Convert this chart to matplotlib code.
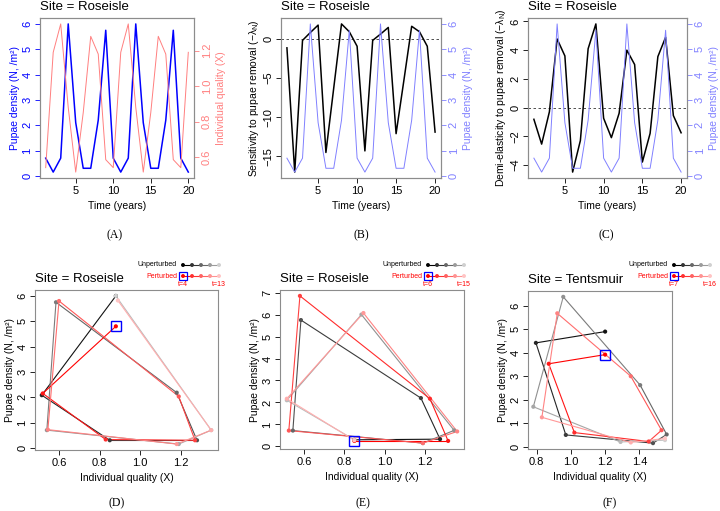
import numpy as np
import matplotlib
matplotlib.use('Agg')
import matplotlib.pyplot as plt
from matplotlib.colors import to_rgb

plt.rcParams['font.family'] = ['Liberation Sans', 'DejaVu Sans']
plt.rcParams['mathtext.fontset'] = 'custom'
plt.rcParams['mathtext.rm'] = 'Liberation Sans'
plt.rcParams['mathtext.it'] = 'Liberation Sans:italic'
plt.rcParams['mathtext.default'] = 'regular'

# --- data ---
years = list(range(1, 21))
pupae = [0.7, 0.15, 0.7, 6.0, 2.1, 0.3, 0.3, 2.2, 5.75, 0.7,
         0.15, 0.7, 6.0, 2.1, 0.3, 0.3, 2.2, 5.75, 0.7, 0.15]
quality = [0.54, 1.19, 1.35, 0.88, 0.515, 0.85, 1.28, 1.18, 0.585, 0.54,
           1.19, 1.35, 0.88, 0.515, 0.85, 1.28, 1.18, 0.585, 0.54, 1.19]
sensitivity = [-1.15, -17.0, -0.2, 0.8, 1.75, -14.5, -6.3, 1.9, 0.9, -0.95,
               -14.3, -0.2, 0.6, 1.45, -12.1, -5.3, 1.6, 0.9, -0.95, -11.9]
demi_elast = [-0.82, -2.55, -0.3, 4.78, 3.6, -4.5, -2.3, 4.1, 5.83, -0.75,
              -2.1, -0.4, 4.0, 3.0, -3.8, -1.8, 3.55, 4.9, -0.56, -1.76]

# phase plots (X, N) for 10 successive years
d_unpert_x = [0.88, 0.515, 0.85, 1.28, 1.18, 0.585, 0.54, 1.19, 1.35, 0.88]
d_unpert_n = [6.0, 2.08, 0.3, 0.3, 2.18, 5.75, 0.7, 0.15, 0.7, 6.0]
d_pert_x = [0.88, 0.52, 0.83, 1.27, 1.19, 0.6, 0.545, 1.18, 1.35, 0.89]
d_pert_n = [4.8, 2.15, 0.33, 0.3, 2.03, 5.8, 0.72, 0.15, 0.7, 5.82]

e_unpert_x = [0.85, 1.275, 1.18, 0.585, 0.545, 1.19, 1.345, 0.885, 0.515, 0.85]
e_unpert_n = [0.3, 0.33, 2.2, 5.75, 0.72, 0.15, 0.73, 6.0, 2.1, 0.3]
e_pert_x = [0.85, 1.315, 1.225, 0.58, 0.525, 1.19, 1.36, 0.895, 0.515, 0.85]
e_pert_n = [0.25, 0.25, 2.17, 6.85, 0.72, 0.15, 0.68, 6.07, 2.17, 0.28]

f_unpert_x = [1.2, 0.795, 0.97, 1.48, 1.56, 1.405, 0.955, 0.78, 1.29, 1.55]
f_unpert_n = [4.9, 4.42, 0.5, 0.15, 0.52, 2.62, 6.38, 1.7, 0.2, 0.28]
f_pert_x = [1.2, 0.87, 1.02, 1.455, 1.53, 1.35, 0.92, 0.83, 1.35, 1.55]
f_pert_n = [3.92, 3.53, 0.6, 0.22, 0.7, 3.0, 5.68, 1.25, 0.18, 0.35]

BLUE = '#0000FF'
LRED = '#FF7F7F'
LBLUE = '#8080FF'
BOX = '#8C8C8C'
TICK = 8
LAB = 7.5

fig = plt.figure(figsize=(7.2, 5.11), dpi=100)


def add_ax(l, r, t, b):
    return fig.add_axes([l / 720, 1 - b / 511, (r - l) / 720, (b - t) / 511])


def style(ax, lcol='black'):
    for s in ax.spines.values():
        s.set_color(BOX)
        s.set_linewidth(0.8)
    ax.tick_params(axis='both', labelsize=TICK, length=3.5, width=0.6, pad=2)
    ax.tick_params(axis='y', colors=lcol, labelrotation=90)
    ax.tick_params(axis='x', colors='black')
    for lab in ax.get_yticklabels():
        lab.set_va('center')
    ax.margins(x=0.04, y=0.04)


def fade(c0, c1, n):
    a = np.array(to_rgb(c0))
    b = np.array(to_rgb(c1))
    return [tuple(a + (b - a) * f) for f in np.linspace(0, 1, n)]


def trajectory(ax, xs, ys, cols, lw=0.8):
    for i in range(len(xs) - 1):
        ax.plot(xs[i:i + 2], ys[i:i + 2], color=cols[i], lw=lw, solid_capstyle='round')
    ax.scatter(xs, ys, c=cols, s=9, zorder=3, linewidths=0)


# --- (A) ---
axA = add_ax(40, 194, 18, 178)
axA.plot(years, pupae, color=BLUE, lw=1.1)
style(axA, BLUE)
axA.set_yticks([0, 1, 2, 3, 4, 5, 6])
axA.set_ylabel('Pupae density (N, /m²)', color=BLUE, fontsize=LAB, labelpad=2)
axA2 = axA.twinx()
axA2.plot(years, quality, color=LRED, lw=0.7)
style(axA2, LRED)
axA2.set_yticks([0.6, 0.8, 1.0, 1.2])
axA2.set_ylabel('Individual quality (X)', color=LRED, fontsize=LAB, labelpad=3)
axA.set_xticks([5, 10, 15, 20])
axA.set_xlabel('Time (years)', fontsize=LAB, labelpad=4)
axA.set_title('Site = Roseisle', loc='left', fontsize=9.5, pad=6)

# --- (B) ---
axB = add_ax(281, 441, 18, 178)
axB2 = axB.twinx()
axB2.plot(years, pupae, color=LBLUE, lw=0.7)
style(axB2, LBLUE)
axB2.set_yticks([0, 1, 2, 3, 4, 5, 6])
axB2.set_ylabel('Pupae density (N, /m²)', color=LBLUE, fontsize=LAB, labelpad=3)
axB.plot(years, sensitivity, color='black', lw=1.1, zorder=3)
axB.axhline(0, color='#333333', lw=0.6, ls=(0, (3, 3)))
style(axB)
axB.set_yticks([-15, -10, -5, 0])
axB.set_ylabel(r'Sensitivity to pupae removal ($-\lambda_N$)', fontsize=LAB, labelpad=2)
axB.set_xticks([5, 10, 15, 20])
axB.set_xlabel('Time (years)', fontsize=LAB, labelpad=4)
axB.set_title('Site = Roseisle', loc='left', fontsize=9.5, pad=6)

# --- (C) ---
axC = add_ax(528, 687, 18, 178)
axC2 = axC.twinx()
axC2.plot(years, pupae, color=LBLUE, lw=0.7)
style(axC2, LBLUE)
axC2.set_yticks([0, 1, 2, 3, 4, 5, 6])
axC2.set_ylabel('Pupae density (N, /m²)', color=LBLUE, fontsize=LAB, labelpad=3)
axC.plot(years, demi_elast, color='black', lw=1.1, zorder=3)
axC.axhline(0, color='#333333', lw=0.6, ls=(0, (3, 3)))
style(axC)
axC.set_yticks([-4, -2, 0, 2, 4, 6])
axC.set_ylabel(r'Demi-elasticity to pupae removal ($-\lambda_N$)', fontsize=LAB, labelpad=2)
axC.set_xticks([5, 10, 15, 20])
axC.set_xlabel('Time (years)', fontsize=LAB, labelpad=4)
axC.set_title('Site = Roseisle', loc='left', fontsize=9.5, pad=6)

# --- (D)-(F) phase plots ---
grey_cols = fade('#111111', '#D0D0D0', 10)
red_cols = fade('#FF0000', '#FFC4C4', 10)

phase = [
    (add_ax(35, 218, 290, 450), 'Roseisle', d_unpert_x, d_unpert_n, d_pert_x, d_pert_n,
     [0.6, 0.8, 1.0, 1.2], list(range(0, 7))),
    (add_ax(280, 464, 290, 449), 'Roseisle', e_unpert_x, e_unpert_n, e_pert_x, e_pert_n,
     [0.6, 0.8, 1.0, 1.2], list(range(0, 8))),
    (add_ax(528, 672, 291, 449), 'Tentsmuir', f_unpert_x, f_unpert_n, f_pert_x, f_pert_n,
     [0.8, 1.0, 1.2, 1.4], list(range(0, 7))),
]
for ax, site, ux, un, px, pn, xt, yt in phase:
    trajectory(ax, ux, un, grey_cols)
    trajectory(ax, px, pn, red_cols)
    ax.plot(px[0], pn[0], marker='s', ms=7, mfc='none', mec=BLUE, mew=1.0, zorder=4)
    style(ax)
    ax.set_xticks(xt)
    ax.set_yticks(yt)
    ax.set_xlabel('Individual quality (X)', fontsize=LAB, labelpad=4)
    ax.set_ylabel('Pupae density (N, /m²)', fontsize=LAB, labelpad=2)
    ax.set_title('Site = ' + site, loc='left', fontsize=9.5, pad=6)

# --- overlay in pixel coords for legends and panel letters ---
ov = fig.add_axes([0, 0, 1, 1])
ov.set_xlim(0, 720)
ov.set_ylim(511, 0)
ov.axis('off')

legend_info = [(183, 4, 13), (428, 6, 15), (674, 7, 16)]
g5 = fade('black', '#D0D0D0', 5)
r5 = fade('#FF0000', '#FFC4C4', 5)
for x0, t0, t1 in legend_info:
    lx = [x0 + 9 * k for k in range(5)]
    for row_y, cols in [(265, g5), (276, r5)]:
        for k in range(4):
            ov.plot(lx[k:k + 2], [row_y, row_y], color=cols[k], lw=0.8)
        ov.scatter(lx, [row_y] * 5, c=cols, s=8, linewidths=0, zorder=3)
    ov.plot(lx[0], 276, marker='s', ms=6, mfc='none', mec=BLUE, mew=0.9)
    ov.text(x0 - 6, 265, 'Unperturbed', fontsize=5, ha='right', va='center', color='black')
    ov.text(x0 - 6, 276, 'Perturbed', fontsize=5, ha='right', va='center', color='#FF0000')
    ov.text(lx[0], 284, 't=%d' % t0, fontsize=5, ha='center', va='center', color='#FF0000')
    ov.text(lx[-1], 284, 't=%d' % t1, fontsize=5, ha='center', va='center', color='#FF0000')

for lab, x, y in [('(A)', 115, 235), ('(B)', 361, 235), ('(C)', 606, 235),
                  ('(D)', 117, 503), ('(E)', 363, 503), ('(F)', 610, 503)]:
    ov.text(x, y, lab, fontsize=8.5, ha='center', va='center', family='Liberation Serif')

fig.savefig('out.png', dpi=100)
